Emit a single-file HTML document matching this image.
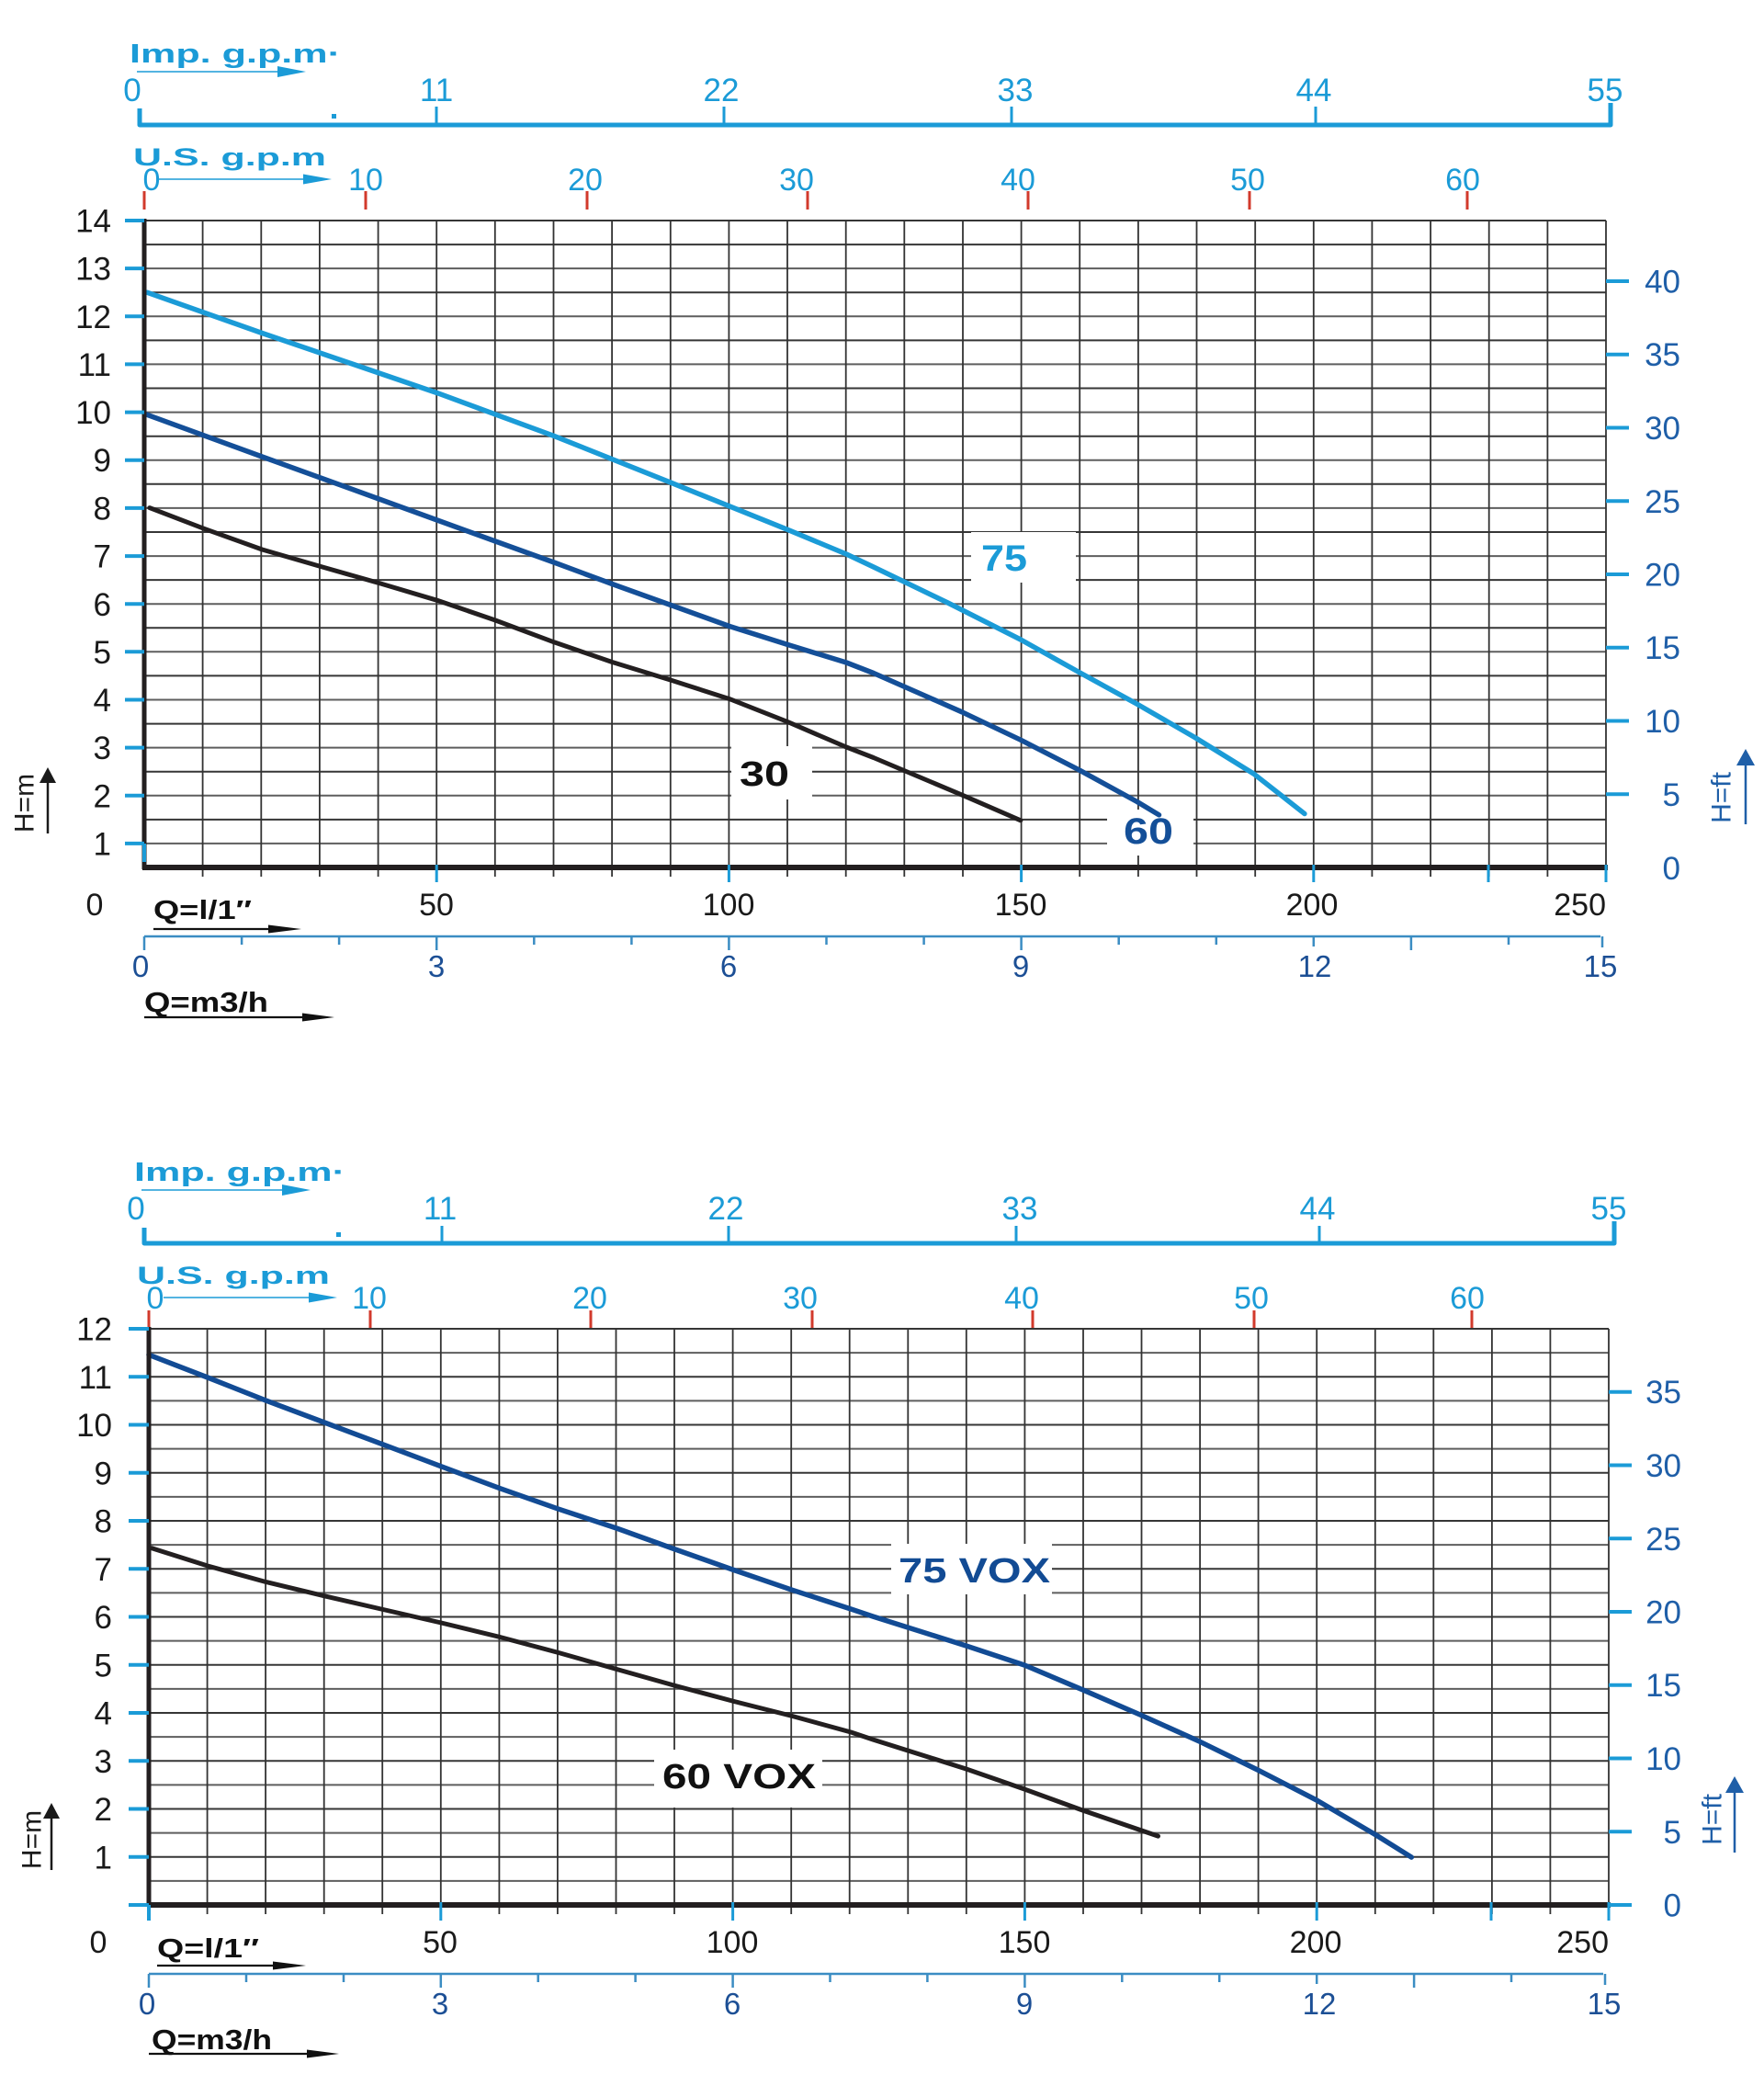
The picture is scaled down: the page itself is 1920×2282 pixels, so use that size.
<!DOCTYPE html>
<html><head><meta charset="utf-8"><style>html,body{margin:0;padding:0;background:#fff}svg{display:block}</style></head>
<body>
<svg width="1920" height="2282" viewBox="0 0 1920 2282" xmlns="http://www.w3.org/2000/svg" font-family="'Liberation Sans', sans-serif">
<rect width="1920" height="2282" fill="#fff"/>

<!-- ================= CHART 1 ================= -->
<text x="141" y="68" font-size="29" font-weight="bold" fill="#1b9bd7" textLength="230" lengthAdjust="spacingAndGlyphs">Imp. g.p.m·</text>
<line x1="149" y1="78" x2="305" y2="78" stroke="#1b9bd7" stroke-width="1.6"/>
<polygon points="302,72 333,78 302,84" fill="#1b9bd7"/>
<g font-size="35" fill="#1b9bd7" text-anchor="middle">
<text x="144" y="110">0</text><text x="475" y="110">11</text><text x="785" y="110">22</text><text x="1105" y="110">33</text><text x="1430" y="110">44</text><text x="1747" y="110">55</text>
</g>
<path d="M152,118 V136 H1753 V112" fill="none" stroke="#1b9bd7" stroke-width="5" stroke-linejoin="round"/>
<g stroke="#1b9bd7" stroke-width="3"><line x1="475" y1="116" x2="475" y2="136"/><line x1="788" y1="116" x2="788" y2="136"/><line x1="1101" y1="116" x2="1101" y2="136"/><line x1="1432" y1="116" x2="1432" y2="136"/></g>
<rect x="361" y="124" width="5" height="5" fill="#1b9bd7"/>
<text x="145" y="180" font-size="27" font-weight="bold" fill="#1b9bd7" textLength="210" lengthAdjust="spacingAndGlyphs">U.S. g.p.m</text>
<line x1="173" y1="195" x2="333" y2="195" stroke="#1b9bd7" stroke-width="1.6"/>
<polygon points="330,189.5 361,195 330,200.5" fill="#1b9bd7"/>
<g font-size="34" fill="#1b9bd7" text-anchor="middle">
<text x="165" y="207">0</text><text x="398" y="207">10</text><text x="637" y="207">20</text><text x="867" y="207">30</text><text x="1108" y="207">40</text><text x="1358" y="207">50</text><text x="1592" y="207">60</text>
</g>
<g stroke="#d23a2c" stroke-width="3"><line x1="157" y1="208" x2="157" y2="228"/><line x1="398" y1="208" x2="398" y2="228"/><line x1="639" y1="208" x2="639" y2="228"/><line x1="879" y1="208" x2="879" y2="228"/><line x1="1119" y1="208" x2="1119" y2="228"/><line x1="1360" y1="208" x2="1360" y2="228"/><line x1="1597" y1="208" x2="1597" y2="228"/></g>

<!-- grid -->
<path d="M157,917.9H1748M157,865.8H1748M157,813.6H1748M157,761.5H1748M157,709.3H1748M157,657.2H1748M157,605.1H1748M157,552.9H1748M157,500.7H1748M157,448.6H1748M157,396.4H1748M157,344.3H1748M157,292.1H1748" stroke="#5e5e5e" stroke-width="2"/>
<path d="M157,891.9H1748M157,839.7H1748M157,787.6H1748M157,735.4H1748M157,683.3H1748M157,631.1H1748M157,579H1748M157,526.8H1748M157,474.7H1748M157,422.5H1748M157,370.4H1748M157,318.2H1748M157,266.1H1748M157,240H1748" stroke="#363636" stroke-width="2"/>
<path d="M220.6,240V954M284.3,240V954M347.9,240V954M411.6,240V954M475.2,240V954M538.8,240V954M602.5,240V954M666.1,240V954M729.8,240V954M793.4,240V954M857,240V954M920.7,240V954M984.3,240V954M1048,240V954M1111.6,240V954M1175.2,240V954M1238.9,240V954M1302.5,240V954M1366.2,240V954M1429.8,240V954M1493.4,240V954M1557.1,240V954M1620.7,240V954M1684.4,240V954M1748,240V954" stroke="#333" stroke-width="1.8"/>

<rect x="796" y="812" width="88" height="58" fill="#fff"/>
<rect x="1057" y="579" width="114" height="55" fill="#fff"/>
<rect x="1205" y="881" width="94" height="50" fill="#fff"/>

<path d="M160,318.2 L285.3,362.5 L475.8,427.6 L603,474.4 L730.2,525.2 L857.4,576.4 L921.2,603 L950.8,617 L1031.7,656 L1110.9,696 L1174.2,731.4 L1237.5,766.1 L1301.4,803 L1364.7,842.1 L1419.9,885.5" fill="none" stroke="#1b9bd7" stroke-width="5.5" stroke-linejoin="round" stroke-linecap="round"/>
<path d="M158,450.6 L285.3,497 L412.5,543 L475.8,566 L539.2,589 L603,612 L666.3,635.5 L730.2,658.5 L794,681.5 L857.4,701.5 L921.2,721 L950.8,732.5 L1047,774.8 L1110.9,805.2 L1174.2,837.7 L1237.5,872.4 L1261.5,886.8" fill="none" stroke="#144f98" stroke-width="5.5" stroke-linejoin="round" stroke-linecap="round"/>
<path d="M162.8,552.6 L221.5,575.1 L285.3,598 L348.7,616.4 L412.5,634.5 L475.8,653.3 L539.2,675 L603,698.8 L666.3,720.5 L730.2,740.1 L794,760.6 L857.4,785.6 L921.2,813 L950.8,824.5 L1047,865.1 L1110.9,892.8" fill="none" stroke="#231f20" stroke-width="5" stroke-linejoin="round" stroke-linecap="round"/>

<text x="805" y="855" font-size="38" font-weight="bold" fill="#111" textLength="54" lengthAdjust="spacingAndGlyphs">30</text>
<text x="1068" y="621" font-size="40" font-weight="bold" fill="#1b9bd7" textLength="50" lengthAdjust="spacingAndGlyphs">75</text>
<text x="1223" y="918" font-size="40" font-weight="bold" fill="#144f98" textLength="54" lengthAdjust="spacingAndGlyphs">60</text>

<line x1="157" y1="238" x2="157" y2="946" stroke="#231f20" stroke-width="5"/>
<line x1="155" y1="944" x2="1750" y2="944" stroke="#231f20" stroke-width="6"/>
<line x1="157" y1="918" x2="157" y2="938" stroke="#1b9bd7" stroke-width="4"/>
<g stroke="#1b9bd7" stroke-width="4">
<line x1="136" y1="917.9" x2="157" y2="917.9"/><line x1="136" y1="865.8" x2="157" y2="865.8"/><line x1="136" y1="813.6" x2="157" y2="813.6"/><line x1="136" y1="761.5" x2="157" y2="761.5"/><line x1="136" y1="709.3" x2="157" y2="709.3"/><line x1="136" y1="657.2" x2="157" y2="657.2"/><line x1="136" y1="605.1" x2="157" y2="605.1"/><line x1="136" y1="552.9" x2="157" y2="552.9"/><line x1="136" y1="500.7" x2="157" y2="500.7"/><line x1="136" y1="448.6" x2="157" y2="448.6"/><line x1="136" y1="396.4" x2="157" y2="396.4"/><line x1="136" y1="344.3" x2="157" y2="344.3"/><line x1="136" y1="292.1" x2="157" y2="292.1"/><line x1="136" y1="240" x2="157" y2="240"/>
</g>
<g stroke="#1b9bd7" stroke-width="3">
<line x1="475.2" y1="941" x2="475.2" y2="960"/><line x1="793.4" y1="941" x2="793.4" y2="960"/><line x1="1111.6" y1="941" x2="1111.6" y2="960"/><line x1="1429.8" y1="941" x2="1429.8" y2="960"/><line x1="1620" y1="941" x2="1620" y2="960"/><line x1="1748" y1="941" x2="1748" y2="960"/>
</g>
<g font-size="35" fill="#1a1a1a" text-anchor="end">
<text x="121" y="930.5">1</text><text x="121" y="878.5">2</text><text x="121" y="826">3</text><text x="121" y="774">4</text><text x="121" y="722">5</text><text x="121" y="670">6</text><text x="121" y="617.5">7</text><text x="121" y="565.5">8</text><text x="121" y="513">9</text><text x="121" y="461">10</text><text x="121" y="409">11</text><text x="121" y="357">12</text><text x="121" y="304.5">13</text><text x="121" y="252.5">14</text>
</g>
<g stroke="#1b9bd7" stroke-width="4">
<line x1="1748" y1="864.3" x2="1773" y2="864.3"/><line x1="1748" y1="784.5" x2="1773" y2="784.5"/><line x1="1748" y1="704.8" x2="1773" y2="704.8"/><line x1="1748" y1="625" x2="1773" y2="625"/><line x1="1748" y1="545.3" x2="1773" y2="545.3"/><line x1="1748" y1="465.5" x2="1773" y2="465.5"/><line x1="1748" y1="385.8" x2="1773" y2="385.8"/><line x1="1748" y1="306" x2="1773" y2="306"/>
</g>
<g font-size="35" fill="#1f5fa8" text-anchor="end">
<text x="1829" y="957">0</text><text x="1829" y="877">5</text><text x="1829" y="797">10</text><text x="1829" y="717">15</text><text x="1829" y="637.5">20</text><text x="1829" y="558">25</text><text x="1829" y="478">30</text><text x="1829" y="398">35</text><text x="1829" y="318.5">40</text>
</g>
<text transform="translate(1874,868) rotate(-90)" font-size="30" fill="#1f5fa8" text-anchor="middle" dominant-baseline="central">H=ft</text>
<line x1="1900" y1="897" x2="1900" y2="830" stroke="#1f5fa8" stroke-width="2.5"/>
<polygon points="1890,833 1900,815 1910,833" fill="#1f5fa8"/>
<text transform="translate(27,874) rotate(-90)" font-size="30" fill="#1a1a1a" text-anchor="middle" dominant-baseline="central">H=m</text>
<line x1="52" y1="907" x2="52" y2="850" stroke="#1a1a1a" stroke-width="2.5"/>
<polygon points="43,852 52,835 61,852" fill="#1a1a1a"/>

<g font-size="34" fill="#1a1a1a" text-anchor="middle">
<text x="103" y="996">0</text><text x="475" y="996">50</text><text x="793" y="996">100</text><text x="1111" y="996">150</text><text x="1428" y="996">200</text><text x="1748" y="996" text-anchor="end">250</text>
</g>
<text x="167" y="1000" font-size="29" font-weight="bold" fill="#111" textLength="107" lengthAdjust="spacingAndGlyphs">Q=l/1″</text>
<line x1="167" y1="1011" x2="296" y2="1011" stroke="#111" stroke-width="2.2"/>
<polygon points="292,1006.5 328,1011 292,1015.5" fill="#111"/>
<line x1="157" y1="1019" x2="1742" y2="1019" stroke="#3b8dc3" stroke-width="2.5"/>
<path d="M157,1019V1034M263.1,1019V1028M369.1,1019V1028M475.2,1019V1034M581.3,1019V1028M687.4,1019V1028M793.4,1019V1034M899.5,1019V1028M1005.6,1019V1028M1111.6,1019V1034M1217.7,1019V1028M1323.8,1019V1028M1429.8,1019V1030M1535.9,1019V1034M1642,1019V1028M1744,1019V1031" stroke="#3b8dc3" stroke-width="2.5"/>
<g font-size="33" fill="#1c4f95" text-anchor="middle">
<text x="153" y="1063">0</text><text x="475" y="1063">3</text><text x="793" y="1063">6</text><text x="1111" y="1063">9</text><text x="1431" y="1063">12</text><text x="1742" y="1063">15</text>
</g>
<text x="157" y="1101" font-size="31" font-weight="bold" fill="#111" textLength="135" lengthAdjust="spacingAndGlyphs">Q=m3/h</text>
<line x1="157" y1="1107" x2="332" y2="1107" stroke="#111" stroke-width="2.2"/>
<polygon points="329,1102.5 364,1107 329,1111.5" fill="#111"/>

<!-- ================= CHART 2 ================= -->
<text x="146" y="1285" font-size="29" font-weight="bold" fill="#1b9bd7" textLength="230" lengthAdjust="spacingAndGlyphs">Imp. g.p.m·</text>
<line x1="154" y1="1295" x2="310" y2="1295" stroke="#1b9bd7" stroke-width="1.6"/>
<polygon points="307,1289 338,1295 307,1301" fill="#1b9bd7"/>
<g font-size="35" fill="#1b9bd7" text-anchor="middle">
<text x="148" y="1327">0</text><text x="479" y="1327">11</text><text x="790" y="1327">22</text><text x="1110" y="1327">33</text><text x="1434" y="1327">44</text><text x="1751" y="1327">55</text>
</g>
<path d="M157,1336 V1353 H1757 V1329" fill="none" stroke="#1b9bd7" stroke-width="5" stroke-linejoin="round"/>
<g stroke="#1b9bd7" stroke-width="3"><line x1="481" y1="1334" x2="481" y2="1353"/><line x1="793" y1="1334" x2="793" y2="1353"/><line x1="1106" y1="1334" x2="1106" y2="1353"/><line x1="1436" y1="1334" x2="1436" y2="1353"/></g>
<rect x="366" y="1341" width="5" height="5" fill="#1b9bd7"/>
<text x="149" y="1397" font-size="27" font-weight="bold" fill="#1b9bd7" textLength="210" lengthAdjust="spacingAndGlyphs">U.S. g.p.m</text>
<line x1="178" y1="1412" x2="338" y2="1412" stroke="#1b9bd7" stroke-width="1.6"/>
<polygon points="336,1406.5 367,1412 336,1417.5" fill="#1b9bd7"/>
<g font-size="34" fill="#1b9bd7" text-anchor="middle">
<text x="169" y="1424">0</text><text x="402" y="1424">10</text><text x="642" y="1424">20</text><text x="871" y="1424">30</text><text x="1112" y="1424">40</text><text x="1362" y="1424">50</text><text x="1597" y="1424">60</text>
</g>
<g stroke="#d23a2c" stroke-width="3"><line x1="162" y1="1426" x2="162" y2="1445"/><line x1="403" y1="1426" x2="403" y2="1445"/><line x1="643" y1="1426" x2="643" y2="1445"/><line x1="884" y1="1426" x2="884" y2="1445"/><line x1="1124" y1="1426" x2="1124" y2="1445"/><line x1="1365" y1="1426" x2="1365" y2="1445"/><line x1="1602" y1="1426" x2="1602" y2="1445"/></g>

<path d="M162,2046.9H1751M162,1994.6H1751M162,1942.4H1751M162,1890.1H1751M162,1837.9H1751M162,1785.6H1751M162,1733.4H1751M162,1681.1H1751M162,1628.9H1751M162,1576.6H1751M162,1524.4H1751M162,1472.1H1751" stroke="#5e5e5e" stroke-width="2"/>
<path d="M162,2020.8H1751M162,1968.5H1751M162,1916.3H1751M162,1864H1751M162,1811.8H1751M162,1759.5H1751M162,1707.3H1751M162,1655H1751M162,1602.8H1751M162,1550.5H1751M162,1498.3H1751M162,1446H1751" stroke="#363636" stroke-width="2"/>
<path d="M225.6,1446V2083M289.1,1446V2083M352.7,1446V2083M416.2,1446V2083M479.8,1446V2083M543.4,1446V2083M606.9,1446V2083M670.5,1446V2083M734,1446V2083M797.6,1446V2083M861.2,1446V2083M924.7,1446V2083M988.3,1446V2083M1051.8,1446V2083M1115.4,1446V2083M1179,1446V2083M1242.5,1446V2083M1306.1,1446V2083M1369.6,1446V2083M1433.2,1446V2083M1496.8,1446V2083M1560.3,1446V2083M1623.9,1446V2083M1687.4,1446V2083M1751,1446V2083" stroke="#333" stroke-width="1.8"/>

<rect x="970" y="1680" width="175" height="55" fill="#fff"/>
<rect x="712" y="1904" width="183" height="63" fill="#fff"/>

<path d="M162,1474.3 L226,1499 L289.8,1524.2 L353.2,1548 L417,1571.9 L480.3,1595.8 L544.2,1619.7 L608,1642.2 L671.3,1663.1 L735.2,1686.1 L799,1708.6 L862.4,1730.3 L926.2,1751 L950,1759 L1051.6,1791 L1115,1812 L1178.3,1838.8 L1242.1,1866.5 L1306,1895.3 L1369.8,1926.5 L1433.1,1959 L1497,1996.5 L1536.3,2021.1" fill="none" stroke="#124b94" stroke-width="5.5" stroke-linejoin="round" stroke-linecap="round"/>
<path d="M165.2,1684.8 L226,1704 L289.8,1721.6 L353.2,1736.8 L417,1751.5 L480.3,1766 L544.2,1781.5 L608,1798.5 L671.3,1816.5 L735.2,1834.5 L799,1851.5 L862.4,1867.5 L926.2,1885 L950,1893 L1051.6,1925 L1115,1947 L1178.3,1970 L1260.5,1998.1" fill="none" stroke="#231f20" stroke-width="5" stroke-linejoin="round" stroke-linecap="round"/>

<text x="978" y="1722" font-size="38" font-weight="bold" fill="#124b94" textLength="165" lengthAdjust="spacingAndGlyphs">75 VOX</text>
<text x="721" y="1946" font-size="38" font-weight="bold" fill="#111" textLength="167" lengthAdjust="spacingAndGlyphs">60 VOX</text>

<line x1="162" y1="1444" x2="162" y2="2075" stroke="#231f20" stroke-width="5"/>
<line x1="160" y1="2073" x2="1753" y2="2073" stroke="#231f20" stroke-width="6"/>
<line x1="162" y1="2073" x2="162" y2="2090" stroke="#1b9bd7" stroke-width="4"/>
<g stroke="#1b9bd7" stroke-width="4">
<line x1="140" y1="2073" x2="162" y2="2073"/><line x1="140" y1="2020.8" x2="162" y2="2020.8"/><line x1="140" y1="1968.5" x2="162" y2="1968.5"/><line x1="140" y1="1916.3" x2="162" y2="1916.3"/><line x1="140" y1="1864" x2="162" y2="1864"/><line x1="140" y1="1811.8" x2="162" y2="1811.8"/><line x1="140" y1="1759.5" x2="162" y2="1759.5"/><line x1="140" y1="1707.3" x2="162" y2="1707.3"/><line x1="140" y1="1655" x2="162" y2="1655"/><line x1="140" y1="1602.8" x2="162" y2="1602.8"/><line x1="140" y1="1550.5" x2="162" y2="1550.5"/><line x1="140" y1="1498.3" x2="162" y2="1498.3"/><line x1="140" y1="1446" x2="162" y2="1446"/>
</g>
<g stroke="#1b9bd7" stroke-width="3">
<line x1="479.8" y1="2070" x2="479.8" y2="2090"/><line x1="797.6" y1="2070" x2="797.6" y2="2090"/><line x1="1115.4" y1="2070" x2="1115.4" y2="2090"/><line x1="1433.2" y1="2070" x2="1433.2" y2="2090"/><line x1="1623" y1="2070" x2="1623" y2="2090"/><line x1="1751" y1="2070" x2="1751" y2="2090"/>
</g>
<g font-size="35" fill="#1a1a1a" text-anchor="end">
<text x="122" y="2033.5">1</text><text x="122" y="1981">2</text><text x="122" y="1929">3</text><text x="122" y="1876.5">4</text><text x="122" y="1824.5">5</text><text x="122" y="1772">6</text><text x="122" y="1720">7</text><text x="122" y="1667.5">8</text><text x="122" y="1615.5">9</text><text x="122" y="1563">10</text><text x="122" y="1511">11</text><text x="122" y="1458.5">12</text>
</g>
<g stroke="#1b9bd7" stroke-width="4">
<line x1="1751" y1="2073" x2="1776" y2="2073"/><line x1="1751" y1="1993.3" x2="1776" y2="1993.3"/><line x1="1751" y1="1913.5" x2="1776" y2="1913.5"/><line x1="1751" y1="1833.8" x2="1776" y2="1833.8"/><line x1="1751" y1="1754" x2="1776" y2="1754"/><line x1="1751" y1="1674.3" x2="1776" y2="1674.3"/><line x1="1751" y1="1594.5" x2="1776" y2="1594.5"/><line x1="1751" y1="1514.8" x2="1776" y2="1514.8"/>
</g>
<g font-size="35" fill="#1f5fa8" text-anchor="end">
<text x="1830" y="2085.5">0</text><text x="1830" y="2006">5</text><text x="1830" y="1926">10</text><text x="1830" y="1846">15</text><text x="1830" y="1766.5">20</text><text x="1830" y="1687">25</text><text x="1830" y="1607">30</text><text x="1830" y="1527">35</text>
</g>
<text transform="translate(1864,1980) rotate(-90)" font-size="30" fill="#1f5fa8" text-anchor="middle" dominant-baseline="central">H=ft</text>
<line x1="1888" y1="2016" x2="1888" y2="1948" stroke="#1f5fa8" stroke-width="2.5"/>
<polygon points="1878,1951 1888,1933 1898,1951" fill="#1f5fa8"/>
<text transform="translate(35,2002) rotate(-90)" font-size="30" fill="#1a1a1a" text-anchor="middle" dominant-baseline="central">H=m</text>
<line x1="56" y1="2035" x2="56" y2="1977" stroke="#1a1a1a" stroke-width="2.5"/>
<polygon points="47,1979 56,1962 65,1979" fill="#1a1a1a"/>

<g font-size="34" fill="#1a1a1a" text-anchor="middle">
<text x="107" y="2125">0</text><text x="479" y="2125">50</text><text x="797" y="2125">100</text><text x="1115" y="2125">150</text><text x="1432" y="2125">200</text><text x="1751" y="2125" text-anchor="end">250</text>
</g>
<text x="171" y="2130" font-size="29" font-weight="bold" fill="#111" textLength="111" lengthAdjust="spacingAndGlyphs">Q=l/1″</text>
<line x1="171" y1="2139" x2="300" y2="2139" stroke="#111" stroke-width="2.2"/>
<polygon points="297,2134.5 333,2139 297,2143.5" fill="#111"/>
<line x1="162" y1="2148" x2="1745" y2="2148" stroke="#3b8dc3" stroke-width="2.5"/>
<path d="M162,2148V2163M268,2148V2157M374,2148V2157M479.8,2148V2163M585.7,2148V2157M691.6,2148V2157M797.6,2148V2163M903.5,2148V2157M1009.4,2148V2157M1115.4,2148V2163M1221.3,2148V2157M1327.2,2148V2157M1433.2,2148V2159M1539.1,2148V2163M1645,2148V2157M1747,2148V2160" stroke="#3b8dc3" stroke-width="2.5"/>
<g font-size="33" fill="#1c4f95" text-anchor="middle">
<text x="160" y="2192">0</text><text x="479" y="2192">3</text><text x="797" y="2192">6</text><text x="1115" y="2192">9</text><text x="1436" y="2192">12</text><text x="1746" y="2192">15</text>
</g>
<text x="165" y="2230" font-size="31" font-weight="bold" fill="#111" textLength="131" lengthAdjust="spacingAndGlyphs">Q=m3/h</text>
<line x1="162" y1="2235" x2="337" y2="2235" stroke="#111" stroke-width="2.2"/>
<polygon points="334,2230.5 369,2235 334,2239.5" fill="#111"/>
</svg>
</body></html>
